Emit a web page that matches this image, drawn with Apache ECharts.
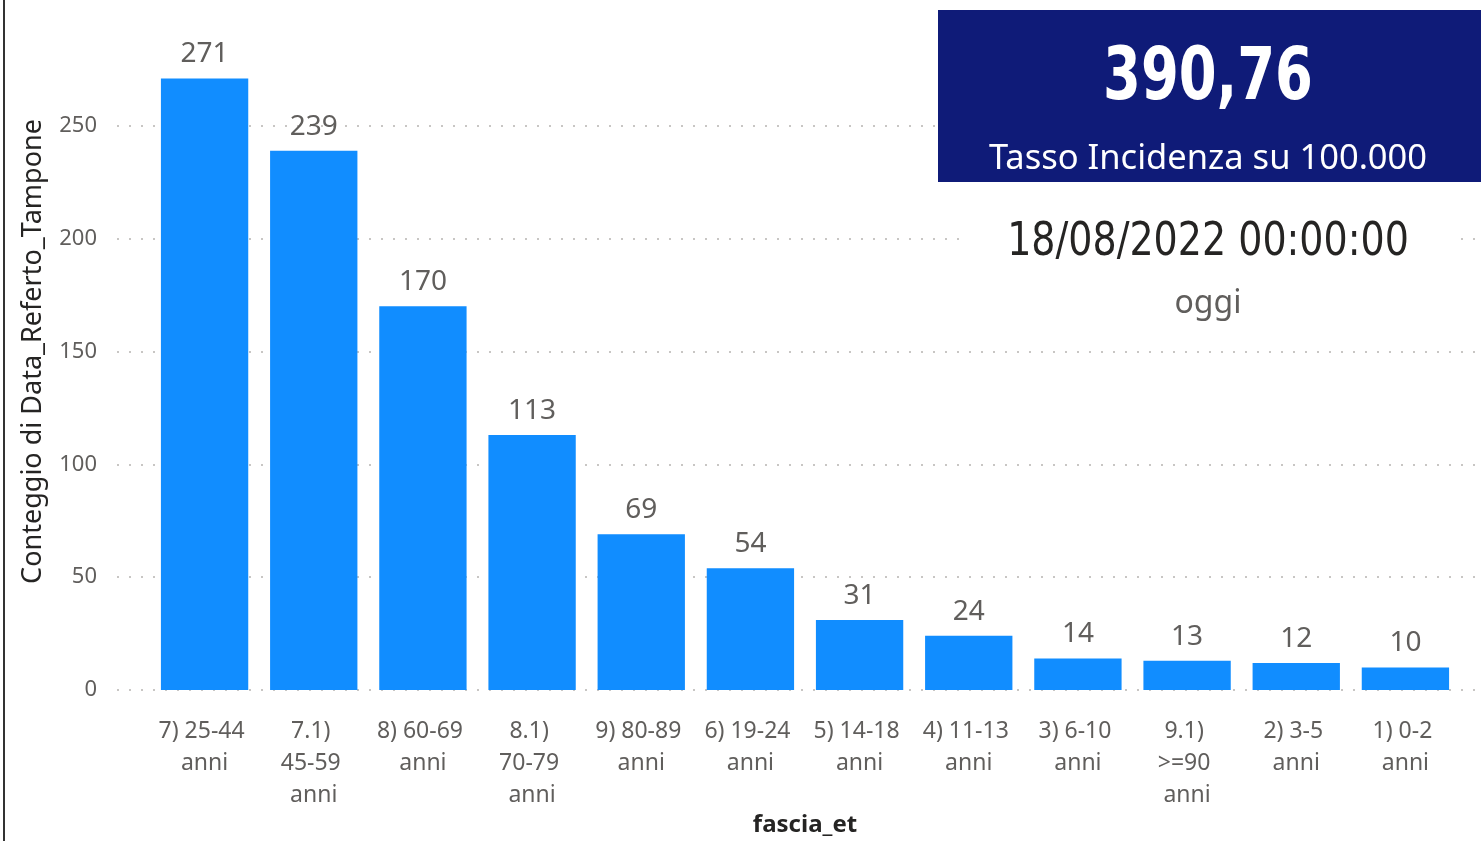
<!DOCTYPE html>
<html><head><meta charset="utf-8">
<script src="https://cdn.jsdelivr.net/npm/echarts@6/dist/echarts.min.js"></script>
<style>html,body{margin:0;padding:0;background:#fff;}#c{width:1481px;height:841px;}</style>
</head><body><div id="c"></div>
<script>
const categories = ['7) 25-44 anni','7.1) 45-59 anni','8) 60-69 anni','8.1) 70-79 anni','9) 80-89 anni','6) 19-24 anni','5) 14-18 anni','4) 11-13 anni','3) 6-10 anni','9.1) >=90 anni','2) 3-5 anni','1) 0-2 anni'];
const values = [271, 239, 170, 113, 69, 54, 31, 24, 14, 13, 12, 10];
const yTicks = [0, 50, 100, 150, 200, 250];
const cardValue = '390,76';
const cardLabel = 'Tasso Incidenza su 100.000';
const dateText = '18/08/2022 00:00:00';
const dateLabel = 'oggi';
const yName = 'Conteggio di Data_Referto_Tampone';
const xName = 'fascia_et';

const font = '"Noto Sans", "Open Sans", sans-serif';
const chart = echarts.init(document.getElementById('c'));
chart.setOption({
  animation: false,
  grid: [
    {left: 150, right: 21, top: 13, bottom: 151, containLabel: false, outerBoundsMode: 'none'},
    {left: 117, right: 6, top: 13, bottom: 151, containLabel: false, outerBoundsMode: 'none'}
  ],
  xAxis: [
    {type: 'category', data: categories, gridIndex: 0,
     axisLine: {show: false}, axisTick: {show: false},
     axisLabel: {interval: 0, color: '#605E5C', fontFamily: font, fontSize: 23, lineHeight: 32, margin: 25,
       width: 94, overflow: 'break', align: 'center'},
     name: xName, nameLocation: 'middle', nameGap: 123, nameMoveOverlap: false,
     nameTextStyle: {color: '#252423', fontFamily: font, fontSize: 24, fontWeight: 'bold'}},
    {type: 'value', gridIndex: 1, show: false}
  ],
  yAxis: [
    {type: 'value', gridIndex: 0, min: 0, max: 300, interval: 50, show: false},
    {type: 'value', gridIndex: 1, min: 0, max: 300, interval: 50,
     axisLine: {show: false}, axisTick: {show: false},
     axisLabel: {color: '#605E5C', fontFamily: font, fontSize: 22, margin: 20, showMaxLabel: false,
       formatter: v => yTicks.includes(v) ? String(v) : ''},
     splitLine: {show: true, showMaxLine: false, lineStyle: {color: '#C8C6C4', width: 2, type: [2, 10]}},
     name: yName, nameLocation: 'middle', nameGap: 70, nameRotate: 90, nameMoveOverlap: false,
     nameTextStyle: {color: '#252423', fontFamily: font, fontSize: 27}}
  ],
  series: [
    {type: 'bar', xAxisIndex: 0, yAxisIndex: 0, data: values, barCategoryGap: '20%',
     itemStyle: {color: '#118DFF'},
     label: {show: true, position: 'top', distance: 10, color: '#605E5C', fontFamily: font, fontSize: 28}}
  ],
  graphic: [
    {type: 'line', shape: {x1: 4, y1: 0, x2: 4, y2: 841}, style: {stroke: '#333', lineWidth: 2}, z: 100},
    {type: 'rect', shape: {x: 960, y: 190, width: 500, height: 140}, style: {fill: '#fff'}, z: 100},
    {type: 'rect', shape: {x: 938, y: 10, width: 543, height: 172}, style: {fill: '#0F1B78'}, z: 101},
    {type: 'text', x: 1208, y: 80, scaleX: 0.945, scaleY: 1.15, z: 102, style: {text: cardValue, fill: '#fff', font: 'bold 64px "DejaVu Sans Condensed", sans-serif', align: 'center', verticalAlign: 'middle'}},
    {type: 'text', x: 1208, y: 159, z: 102, style: {text: cardLabel, fill: '#fff', font: '34.5px ' + font, align: 'center', verticalAlign: 'middle'}},
    {type: 'text', x: 1208, y: 243, scaleX: 0.96, scaleY: 1.05, z: 102, style: {text: dateText, fill: '#252423', font: '44px "DejaVu Sans Condensed", sans-serif', align: 'center', verticalAlign: 'middle'}},
    {type: 'text', x: 1208, y: 304, z: 102, style: {text: dateLabel, fill: '#605E5C', font: '32px ' + font, align: 'center', verticalAlign: 'middle'}}
  ]
});
</script></body></html>
